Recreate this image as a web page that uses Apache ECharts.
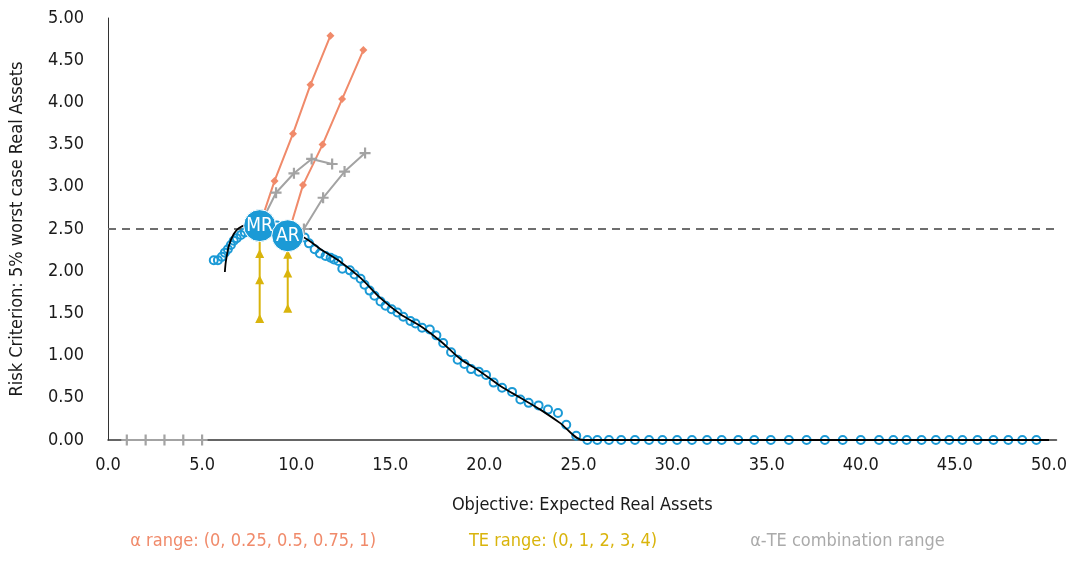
<!DOCTYPE html>
<html lang="en" style="height: 100%">
  <head>
    <meta charset="utf-8" />
  </head>
  <body style="height: 100%; margin: 0; background: #fff">
    <div id="container" style="width: 1070px; height: 561px"></div>

    <script
      type="text/javascript"
      src="https://cdn.jsdelivr.net/npm/echarts@6/dist/echarts.min.js"
    ></script>
    <script type="text/javascript">
      var dom = document.getElementById("container");
      var myChart = echarts.init(dom, null, { renderer: "canvas" });

      const font = "'Liberation Sans Narrow', 'DejaVu Sans Condensed', Roboto, sans-serif";
      const alphaName = "α range: (0, 0.25, 0.5, 0.75, 1)";
      const teName = "TE range: (0, 1, 2, 3, 4)";
      const comboName = "α-TE combination range";

      // portfolio points
      const mrPoint = [8.06, 2.54];
      const arPoint = [9.55, 2.42];
      const riskLimit = 2.5;

      // fitted frontier (black)
      const frontierX = [6.21, 6.26, 6.42, 6.68, 6.95, 7.32, 7.69, 8.12, 8.65, 9.18, 9.71,
        10.24, 10.77, 11.3, 12.36, 13.42, 14.48, 15.54, 16.6, 17.67, 18.73, 19.79,
        20.85, 21.91, 22.97, 24.03, 25.25, 50.0];
      const frontierY = [1.99, 2.11, 2.3, 2.44, 2.51, 2.55, 2.56, 2.56, 2.55, 2.51, 2.46,
        2.42, 2.35, 2.26, 2.11, 1.92, 1.68, 1.49, 1.35, 1.17, 0.96, 0.81,
        0.64, 0.5, 0.36, 0.2, 0.0, 0.0];

      // simulated portfolios (blue circles)
      const simX = [5.62, 5.84, 6.05, 6.21, 6.37, 6.53, 6.68, 6.84, 7.06, 7.27, 7.48,
        7.75, 8.38, 8.97, 9.71, 10.13,
        10.45, 10.68, 10.98, 11.26, 11.56, 11.83, 12.01, 12.24, 12.45, 12.85, 13.1,
        13.42, 13.63, 13.9, 14.16, 14.48, 14.75, 15.07, 15.38, 15.69, 16.07, 16.34,
        16.69, 17.1, 17.45, 17.81, 18.23, 18.58, 18.94, 19.29, 19.7, 20.09, 20.49,
        20.94, 21.47, 21.91, 22.35, 22.88, 23.38, 23.91, 24.35, 24.88,
        25.47, 26.0, 26.62, 27.27, 28.0, 28.75, 29.46, 30.24, 31.03, 31.83, 32.61,
        33.49, 34.34, 35.22, 36.18, 37.12, 38.09, 39.04, 40.0, 40.97, 41.73, 42.43,
        43.23, 43.99, 44.7, 45.4, 46.2, 47.05, 47.84, 48.58, 49.33];
      const simY = [2.13, 2.13, 2.17, 2.22, 2.26, 2.31, 2.36, 2.39, 2.43, 2.46, 2.5,
        2.52, 2.54, 2.54, 2.48, 2.44,
        2.4, 2.33, 2.26, 2.21, 2.18, 2.16, 2.14, 2.12, 2.03, 2.01, 1.96,
        1.91, 1.84, 1.77, 1.71, 1.64, 1.59, 1.55, 1.51, 1.46, 1.41, 1.38,
        1.33, 1.31, 1.24, 1.15, 1.04, 0.95, 0.9, 0.84, 0.81, 0.77, 0.68,
        0.62, 0.57, 0.48, 0.44, 0.41, 0.36, 0.32, 0.18, 0.05,
        0, 0, 0, 0, 0, 0, 0, 0, 0, 0, 0,
        0, 0, 0, 0, 0, 0, 0, 0, 0, 0, 0,
        0, 0, 0, 0, 0, 0, 0, 0, 0];

      // alpha range from MR and AR
      const alphaMrX = [8.06, 8.85, 9.83, 10.76, 11.82];
      const alphaMrY = [2.54, 3.07, 3.63, 4.21, 4.79];
      const alphaArX = [9.55, 10.36, 11.4, 12.44, 13.57];
      const alphaArY = [2.42, 3.02, 3.5, 4.04, 4.62];

      // TE range from MR and AR
      const teMrX = [8.06, 8.06, 8.06, 8.06];
      const teMrY = [2.54, 2.21, 1.9, 1.44];
      const teArX = [9.55, 9.55, 9.55, 9.55];
      const teArY = [2.42, 2.2, 1.98, 1.56];

      // alpha-TE combinations
      const comboMrX = [8.06, 8.93, 9.88, 10.82, 11.91];
      const comboMrY = [2.54, 2.93, 3.16, 3.33, 3.27];
      const comboArX = [9.55, 10.41, 11.43, 12.57, 13.66];
      const comboArY = [2.42, 2.5, 2.87, 3.18, 3.4];
      const comboZeroX = [1, 2, 3, 4, 5];
      const comboZeroY = [0, 0, 0, 0, 0];

      const blue = "#1b9ad6";
      const orange = "#f08a6a";
      const gold = "#d9b40c";
      const grey = "#a3a3a3";
      const plus = "path://M4,0h2v4h4v2h-4v4h-2v-4h-4v-2h4z";

      function zip(xs, ys) {
        return xs.map(function (x, i) { return [x, ys[i]]; });
      }

      function rangeSeries(name, xs, ys, color, symbol, size) {
        return {
          name: name,
          type: "line",
          data: zip(xs, ys),
          symbol: symbol,
          symbolSize: size,
          showAllSymbol: true,
          lineStyle: { color: color, width: 2 },
          itemStyle: { color: color },
          z: 4,
          silent: true,
        };
      }

      var option = {
        animation: false,
        textStyle: { fontFamily: font },
        grid: { left: 107, right: 13, top: 18, bottom: 121 },
        legend: {
          bottom: 6,
          left: "center",
          icon: "none",
          itemWidth: 0,
          itemGap: 88,
          textStyle: { fontFamily: font, fontSize: 18 },
          data: [
            { name: alphaName, textStyle: { color: orange } },
            { name: teName, textStyle: { color: gold } },
            { name: comboName, textStyle: { color: "#aaaaaa" } },
          ],
          selectedMode: false,
        },
        xAxis: {
          type: "value",
          min: 0,
          max: 50.4,
          interval: 5,
          name: "Objective: Expected Real Assets",
          nameLocation: "middle",
          nameGap: 56,
          nameTextStyle: { color: "#1a1a1a", fontSize: 18, fontFamily: font },
          axisLine: { lineStyle: { color: "#333", width: 1.5 } },
          axisTick: { show: false },
          splitLine: { show: false },
          axisLabel: {
            color: "#1a1a1a",
            fontSize: 18,
            margin: 16,
            formatter: function (v) {
              return Math.abs(v % 5) < 1e-6 ? v.toFixed(1) : "";
            },
          },
        },
        yAxis: {
          type: "value",
          min: 0,
          max: 5,
          interval: 0.5,
          name: "Risk Criterion: 5% worst case Real Assets",
          nameLocation: "middle",
          nameGap: 82,
          nameTextStyle: { color: "#1a1a1a", fontSize: 18, fontFamily: font },
          axisLine: { show: true, lineStyle: { color: "#333", width: 1 } },
          axisTick: { show: false },
          splitLine: { show: false },
          axisLabel: {
            color: "#1a1a1a",
            fontSize: 18,
            margin: 24,
            formatter: function (v) { return v.toFixed(2); },
          },
        },
        series: [
          {
            name: "limit",
            type: "line",
            data: [[0, riskLimit], [51, riskLimit]],
            symbol: "none",
            clip: false,
            lineStyle: { color: "#6e6e6e", width: 2, type: [8, 6] },
            silent: true,
            z: 1,
          },
          {
            name: "simulated",
            type: "scatter",
            data: zip(simX, simY),
            symbol: "circle",
            symbolSize: 8,
            itemStyle: {
              color: "rgba(0,0,0,0)",
              borderColor: blue,
              borderWidth: 2,
              opacity: 1,
            },
            silent: true,
            z: 2,
          },
          {
            name: "frontier",
            type: "line",
            data: zip(frontierX, frontierY),
            symbol: "none",
            smooth: 0.3,
            lineStyle: { color: "#000", width: 1.8 },
            silent: true,
            z: 3,
          },
          rangeSeries(alphaName, alphaMrX, alphaMrY, orange, "diamond", 8),
          rangeSeries(alphaName, alphaArX, alphaArY, orange, "diamond", 8),
          rangeSeries(comboName, comboMrX, comboMrY, grey, plus, 11),
          rangeSeries(comboName, comboArX, comboArY, grey, plus, 11),
          rangeSeries(comboName, comboZeroX, comboZeroY, grey, plus, 11),
          rangeSeries(teName, teMrX, teMrY, gold, "triangle", 9),
          rangeSeries(teName, teArX, teArY, gold, "triangle", 9),
          {
            name: "portfolios",
            type: "scatter",
            data: [
              { value: mrPoint, label: { formatter: "MR" } },
              { value: arPoint, label: { formatter: "AR" } },
            ],
            symbolSize: 32,
            itemStyle: { color: blue, borderColor: "#fff", borderWidth: 1, opacity: 1 },
            label: {
              show: true,
              position: "inside",
              color: "#fff",
              fontSize: 19,
              fontFamily: font,
            },
            silent: true,
            z: 10,
          },
        ],
      };

      myChart.setOption(option);
      window.addEventListener("resize", myChart.resize);
    </script>
  </body>
</html>
